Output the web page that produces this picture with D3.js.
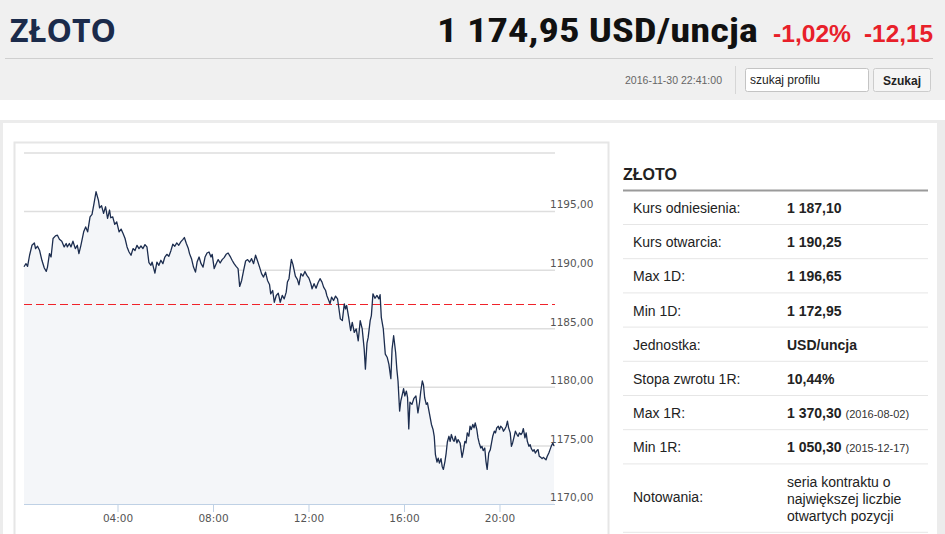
<!DOCTYPE html>
<html>
<head>
<meta charset="utf-8">
<script src="https://d3js.org/d3.v7.min.js"></script>
<style>
  body { margin: 0; background: #fff; overflow: hidden; }
  svg text { font-family: "Liberation Sans", Arial, sans-serif; }
</style>
</head>
<body>
<svg id="page" width="945" height="534"></svg>
<script>
// intraday quotes, minutes after midnight (2016-11-30) and price in USD/uncja
var minutes = [
  5,10,14,19,25,31,34,39,44,50,
  56,61,64,69,73,78,84,89,94,100,
  106,111,114,119,123,128,134,139,143,148,
  155,160,165,171,176,181,186,192,195,200,
  205,210,215,220,223,228,233,238,244,249,
  254,259,264,269,274,279,284,289,294,299,
  304,309,314,319,324,327,334,339,344,349,
  354,359,364,369,374,379,384,389,394,399,
  404,408,413,418,421,426,431,436,440,445,
  450,455,460,465,470,475,478,483,488,493,
  498,503,508,513,518,523,528,533,538,543,
  547,552,557,562,567,572,577,582,587,592,
  597,602,607,612,617,622,625,630,634,639,
  644,649,654,659,664,667,671,674,677,681,
  684,687,692,696,701,706,711,716,721,726,
  729,734,739,744,749,754,758,763,766,771,
  774,778,783,788,793,796,800,805,810,813,
  816,821,826,830,835,840,845,850,855,860,
  863,867,870,875,878,882,887,892,897,900,
  903,908,913,918,922,927,930,934,939,942,
  945,949,952,955,959,962,966,969,972,975,
  980,985,990,995,999,1002,1006,1009,1012,1016,
  1019,1022,1026,1029,1033,1036,1039,1043,1046,1049,
  1053,1056,1059,1063,1066,1069,1073,1076,1079,1083,
  1086,1089,1093,1096,1101,1106,1109,1113,1116,1119,
  1123,1126,1129,1133,1136,1139,1143,1146,1149,1153,
  1156,1159,1163,1166,1169,1173,1177,1180,1183,1187,
  1190,1193,1197,1200,1203,1207,1210,1213,1217,1220,
  1223,1227,1230,1233,1237,1240,1244,1247,1250,1254,
  1257,1260,1264,1267,1270,1274,1277,1280,1284,1287,
  1290,1294,1297,1300,1304,1307,1310,1314,1317,1320,
  1324,1327,1330,1334,1337
];
var prices = [
  1190.25,1190.51,1190.28,1191.23,1192.08,1192.28,1191.80,1192.00,1191.66,1190.80,
  1190.14,1189.85,1190.22,1191.37,1191.08,1192.66,1192.88,1192.94,1192.60,1192.43,
  1191.94,1192.23,1191.94,1192.23,1191.94,1192.43,1191.80,1192.08,1191.37,1192.08,
  1193.23,1193.65,1193.23,1194.51,1194.72,1195.66,1196.65,1195.94,1195.28,1195.45,
  1194.80,1195.37,1194.37,1195.09,1194.43,1194.51,1193.86,1194.08,1193.23,1193.46,
  1193.09,1192.66,1191.94,1191.51,1191.23,1191.80,1191.63,1192.08,1191.80,1192.02,
  1191.80,1192.14,1191.94,1190.60,1190.37,1190.65,1189.71,1190.65,1190.37,1190.80,
  1190.51,1191.08,1191.31,1191.14,1191.60,1192.17,1192.00,1192.28,1192.08,1192.37,
  1192.57,1192.74,1192.23,1191.80,1191.37,1190.94,1190.22,1189.79,1190.65,1191.08,
  1190.51,1190.22,1191.08,1191.42,1191.51,1191.08,1191.31,1190.09,1190.51,1190.86,
  1190.57,1190.86,1191.03,1191.31,1191.42,1191.14,1190.80,1190.51,1190.28,1190.09,
  1188.57,1189.08,1189.94,1190.74,1190.86,1190.65,1190.94,1190.51,1191.23,1190.74,
  1190.22,1189.66,1189.37,1189.79,1189.08,1188.74,1187.94,1188.22,1187.22,1187.80,
  1187.99,1187.22,1187.80,1187.51,1188.08,1188.94,1189.23,1190.09,1190.88,1190.43,
  1189.94,1189.45,1189.17,1188.71,1189.66,1189.45,1189.85,1189.51,1189.28,1188.80,
  1188.37,1188.80,1188.42,1188.88,1189.23,1188.94,1188.51,1188.22,1187.80,1187.37,
  1187.08,1187.65,1187.37,1187.74,1187.51,1186.79,1185.80,1185.65,1187.08,1186.65,
  1186.94,1185.93,1184.79,1185.50,1184.65,1184.94,1183.93,1185.65,1184.94,1183.22,
  1181.51,1183.74,1184.22,1185.65,1186.08,1187.94,1187.56,1187.80,1187.51,1187.86,
  1185.93,1184.94,1182.79,1182.50,1181.94,1180.70,1183.22,1184.36,1182.93,1181.51,
  1180.50,1177.93,1178.79,1179.22,1179.84,1179.22,1179.64,1179.07,1176.41,1178.70,
  1178.50,1179.02,1179.22,1177.78,1178.64,1179.58,1180.50,1180.16,1179.07,1178.50,
  1178.64,1178.07,1177.35,1176.79,1176.36,1175.78,1174.21,1173.58,1173.92,1173.49,
  1173.87,1173.21,1172.95,1173.64,1174.35,1175.29,1175.78,1175.35,1175.93,1175.50,
  1175.35,1175.78,1175.21,1175.50,1175.21,1173.98,1174.50,1175.35,1175.21,1176.07,
  1175.78,1176.64,1176.36,1176.79,1176.50,1176.93,1176.36,1175.64,1175.21,1174.78,
  1174.92,1174.56,1174.78,1173.64,1172.95,1174.35,1174.64,1175.21,1175.78,1176.21,
  1176.07,1176.50,1176.64,1176.36,1176.64,1176.50,1176.21,1176.36,1176.64,1177.07,
  1176.50,1176.07,1174.92,1175.21,1175.78,1176.21,1175.93,1175.78,1176.07,1175.93,
  1176.07,1176.44,1175.64,1176.07,1175.35,1174.92,1175.07,1174.73,1174.50,1174.64,
  1174.35,1174.56,1174.64,1174.07,1173.98,1173.87,1173.98,1173.87,1173.78,1174.07,
  1174.35,1174.64,1174.92,1175.21,1174.95
];
var refPrice = 1187.10;   // kurs odniesienia -> red dashed line
var yTicks = [1170, 1175, 1180, 1185, 1190, 1195, 1200];

var tableLabels = ["Kurs odniesienia:", "Kurs otwarcia:", "Max 1D:", "Min 1D:", "Jednostka:",
                   "Stopa zwrotu 1R:", "Max 1R:", "Min 1R:", "Notowania:"];
var tableValues = ["1 187,10", "1 190,25", "1 196,65", "1 172,95", "USD/uncja",
                   "10,44%", "1 370,30", "1 050,30", ""];
var tableNotes = ["", "", "", "", "", "", "(2016-08-02)", "(2015-12-17)", ""];
var notowaniaLines = ["seria kontraktu o", "największej liczbie", "otwartych pozycji"];

var svg = d3.select("#page");

// ---- header ----
svg.append("rect").attr("x", 0).attr("y", 0).attr("width", 945).attr("height", 100).attr("fill", "#f0f0f0");
svg.append("text").attr("x", 10).attr("y", 42)
  .style("font-family", "'Open Sans', sans-serif").style("font-weight", "bold").style("font-size", "32px")
  .attr("fill", "#1b2b4b").text("ZŁOTO");
svg.append("text").attr("x", 437).attr("y", 42)
  .style("font-family", "'Liberation Sans Narrow', 'Roboto Condensed', 'Liberation Sans', sans-serif")
  .style("font-weight", "bold").style("font-size", "33px")
  .attr("textLength", 321).attr("lengthAdjust", "spacingAndGlyphs")
  .attr("fill", "#111").text("1 174,95 USD/uncja");
svg.append("text").attr("x", 773).attr("y", 42)
  .style("font-family", "'Liberation Sans Narrow', 'Liberation Sans', sans-serif")
  .style("font-weight", "bold").style("font-size", "23px")
  .attr("textLength", 78).attr("lengthAdjust", "spacingAndGlyphs")
  .attr("fill", "#e8202a").text("-1,02%");
svg.append("text").attr("x", 864).attr("y", 42)
  .style("font-family", "'Liberation Sans Narrow', 'Liberation Sans', sans-serif")
  .style("font-weight", "bold").style("font-size", "23px")
  .attr("textLength", 69).attr("lengthAdjust", "spacingAndGlyphs")
  .attr("fill", "#e8202a").text("-12,15");
svg.append("line").attr("x1", 5).attr("x2", 933).attr("y1", 58.5).attr("y2", 58.5)
  .attr("stroke", "#cfcfcf");

svg.append("text").attr("x", 625).attr("y", 84)
  .style("font-size", "11px").attr("textLength", 97).attr("lengthAdjust", "spacingAndGlyphs")
  .attr("fill", "#666").text("2016-11-30 22:41:00");
svg.append("line").attr("x1", 735.5).attr("x2", 735.5).attr("y1", 66).attr("y2", 94)
  .attr("stroke", "#d6d6d6");
svg.append("rect").attr("x", 745.5).attr("y", 68.5).attr("width", 123).attr("height", 23).attr("rx", 2)
  .attr("fill", "#fff").attr("stroke", "#c4c4c4");
svg.append("text").attr("x", 750).attr("y", 84).style("font-size", "12px").attr("fill", "#222")
  .text("szukaj profilu");
svg.append("rect").attr("x", 873.5).attr("y", 68.5).attr("width", 57).attr("height", 23).attr("rx", 2)
  .attr("fill", "#f5f5f5").attr("stroke", "#cccccc");
svg.append("text").attr("x", 902).attr("y", 85).attr("text-anchor", "middle")
  .style("font-size", "12px").style("font-weight", "bold").attr("fill", "#222").text("Szukaj");

// ---- panels ----
svg.append("rect").attr("x", 0).attr("y", 120).attr("width", 945).attr("height", 414).attr("fill", "#ececec");
svg.append("rect").attr("x", 3).attr("y", 123).attr("width", 934).attr("height", 411).attr("fill", "#fff");
svg.append("rect").attr("x", 14.5).attr("y", 142.5).attr("width", 594).attr("height", 400)
  .attr("fill", "#fff").attr("stroke", "#e6e6e6").attr("stroke-width", 2);

// ---- chart ----
var data = minutes.map(function (m, i) {
  return { date: new Date(2016, 10, 30, 0, m), price: prices[i] };
});

var x = d3.scaleTime()
  .domain(d3.extent(data, function (d) { return d.date; }))
  .range([24, 554]);
var y = d3.scaleLinear()
  .domain([yTicks[0], yTicks[yTicks.length - 1]])
  .range([504, 152.5]);

var plFormat = d3.formatLocale({ decimal: ",", thousands: " ", grouping: [3], currency: ["", ""] }).format(".2f");

// gridlines
var grid = svg.append("g").attr("transform", "translate(24,0)")
  .call(d3.axisLeft(y).tickValues(yTicks.slice(1)).tickSize(-531).tickFormat(""));
grid.select(".domain").remove();
grid.selectAll("line").attr("stroke", "#dedede").attr("stroke-width", 1.5);

// area + line
var area = d3.area()
  .x(function (d) { return x(d.date); })
  .y0(y(yTicks[0]))
  .y1(function (d) { return y(d.price); });
var line = d3.line()
  .x(function (d) { return x(d.date); })
  .y(function (d) { return y(d.price); });

svg.append("path").datum(data).attr("d", area).attr("fill", "#f4f6f9");

// reference line, snapped to the pixel grid so it stays bright red
var refY = Math.round(y(refPrice)) + 0.5;
svg.append("line")
  .attr("x1", 24).attr("x2", 555)
  .attr("y1", refY).attr("y2", refY)
  .attr("stroke", "#f0222a").attr("stroke-width", 1).attr("stroke-dasharray", "8,4");

svg.append("path").datum(data).attr("d", line)
  .attr("fill", "none").attr("stroke", "#1c2d4f").attr("stroke-width", 1.3)
  .attr("stroke-linejoin", "round");

// y labels (right side, sitting on the gridlines)
var yAxis = svg.append("g").attr("transform", "translate(550,0)")
  .call(d3.axisRight(y).tickValues(yTicks.slice(0, -1)).tickSize(0).tickPadding(0).tickFormat(plFormat));
yAxis.select(".domain").remove();
yAxis.selectAll("text")
  .attr("dy", "-0.3em")
  .style("font-family", "'DejaVu Sans', sans-serif").style("font-size", "10.5px").attr("fill", "#555");

// x axis
var xAxis = svg.append("g").attr("transform", "translate(0,504)")
  .call(d3.axisBottom(x).ticks(d3.timeHour.every(4)).tickFormat(d3.timeFormat("%H:%M"))
    .tickSize(8).tickSizeOuter(0));
xAxis.select(".domain").attr("stroke", "#bfd1e5").attr("d", "M24,0.5H555");
xAxis.selectAll("line").attr("stroke", "#bfd1e5");
xAxis.selectAll("text")
  .style("font-family", "'DejaVu Sans', sans-serif").style("font-size", "10.5px").attr("fill", "#555");

// ---- info table ----
var tbl = svg.append("g");
tbl.append("text").attr("x", 623).attr("y", 180)
  .style("font-size", "16px").style("font-weight", "bold").attr("fill", "#222").text("ZŁOTO");
tbl.append("line").attr("x1", 623).attr("x2", 928).attr("y1", 190.5).attr("y2", 190.5)
  .attr("stroke", "#9a9a9a").attr("stroke-width", 2);

var rowH = 34.2;
tableLabels.forEach(function (lab, i) {
  var top = 190.3 + i * rowH;
  var last = i === tableLabels.length - 1;
  var base = last ? 502 : top + 22.7;
  var bottom = last ? 532.3 : top + rowH;
  tbl.append("line").attr("x1", 623).attr("x2", 928).attr("y1", bottom).attr("y2", bottom)
    .attr("stroke", "#e6e6e6");
  tbl.append("text").attr("x", 633).attr("y", base).style("font-size", "14px").attr("fill", "#222").text(lab);
  if (last) {
    notowaniaLines.forEach(function (t, k) {
      tbl.append("text").attr("x", 787).attr("y", 487 + k * 17)
        .style("font-size", "14px").attr("fill", "#222").text(t);
    });
  } else {
    var v = tbl.append("text").attr("x", 787).attr("y", base)
      .style("font-size", "14px").style("font-weight", "bold").attr("fill", "#222").text(tableValues[i]);
    if (tableNotes[i]) {
      var w = v.node().getComputedTextLength();
      tbl.append("text").attr("x", 787 + w + 4).attr("y", base)
        .style("font-size", "11px").attr("fill", "#333").text(tableNotes[i]);
    }
  }
});
</script>
</body>
</html>
